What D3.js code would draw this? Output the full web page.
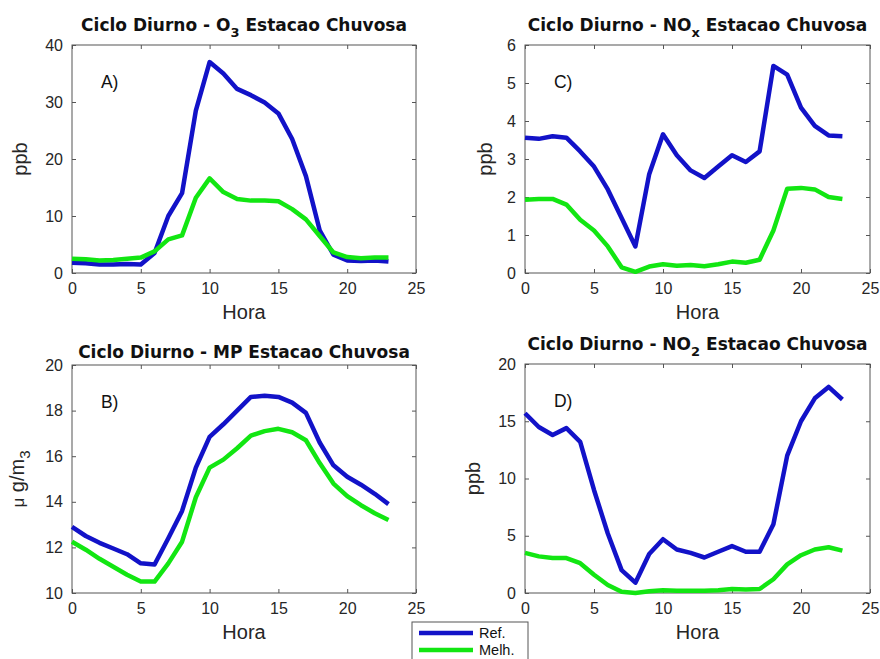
<!DOCTYPE html>
<html>
<head>
<meta charset="utf-8">
<script src="https://cdn.jsdelivr.net/npm/d3@7"></script>
<style>
  body { margin: 0; background: #fff; }
  text { font-family: "Liberation Sans", Arial, sans-serif; }
</style>
</head>
<body>
<svg id="chart" width="880" height="659"></svg>
<script>
// hours of the day
var hours = d3.range(0, 24);

// O3 (ppb)
var o3Ref  = [1.8, 1.7, 1.5, 1.5, 1.6, 1.5, 3.5, 10, 14, 28.5, 37, 35, 32.3, 31.2, 29.9, 28, 23.5, 17, 7.5, 3.2, 2.2, 2.1, 2.2, 2.0];
var o3Melh = [2.5, 2.4, 2.2, 2.3, 2.5, 2.7, 3.8, 5.9, 6.6, 13.2, 16.6, 14.2, 13.0, 12.7, 12.7, 12.6, 11.2, 9.4, 6.5, 3.6, 2.8, 2.6, 2.7, 2.7];

// NOx (ppb)
var noxRef  = [3.56, 3.53, 3.6, 3.56, 3.2, 2.8, 2.2, 1.45, 0.7, 2.6, 3.65, 3.1, 2.7, 2.5, 2.8, 3.1, 2.92, 3.2, 5.45, 5.22, 4.35, 3.87, 3.62, 3.6];
var noxMelh = [1.93, 1.95, 1.95, 1.8, 1.4, 1.12, 0.7, 0.15, 0.03, 0.17, 0.23, 0.19, 0.21, 0.18, 0.23, 0.3, 0.27, 0.35, 1.12, 2.22, 2.24, 2.2, 2.0, 1.95];

// MP (ug/m3)
var mpRef  = [12.9, 12.5, 12.2, 11.95, 11.7, 11.3, 11.25, 12.4, 13.6, 15.5, 16.85, 17.4, 18.0, 18.6, 18.65, 18.6, 18.35, 17.9, 16.6, 15.6, 15.1, 14.75, 14.35, 13.9];
var mpMelh = [12.25, 11.9, 11.5, 11.15, 10.8, 10.5, 10.5, 11.3, 12.25, 14.2, 15.5, 15.85, 16.35, 16.9, 17.1, 17.2, 17.05, 16.7, 15.7, 14.8, 14.25, 13.85, 13.5, 13.2];

// NO2 (ppb)
var no2Ref  = [15.7, 14.5, 13.8, 14.4, 13.2, 9.0, 5.2, 2.0, 0.9, 3.4, 4.7, 3.8, 3.5, 3.1, 3.6, 4.1, 3.6, 3.6, 6.0, 12.0, 15.0, 17.0, 18.0, 16.9];
var no2Melh = [3.5, 3.2, 3.05, 3.05, 2.6, 1.6, 0.7, 0.1, 0.0, 0.15, 0.25, 0.2, 0.2, 0.2, 0.25, 0.35, 0.3, 0.35, 1.2, 2.5, 3.3, 3.8, 4.0, 3.7];

var xTicks = [0, 5, 10, 15, 20, 25];
var seriesNames = ["Ref.", "Melh."];
var colors = ["#1212c8", "#12e612"];

var panels = [
  { title: ["Ciclo Diurno - O", "3", " Estacao Chuvosa"], tag: "A)", ylabel: "ppb",
    yDomain: [0, 40], yTicks: [0, 10, 20, 30, 40], ref: o3Ref, melh: o3Melh,
    box: [72, 45, 416, 273], ylabX: 27 },
  { title: ["Ciclo Diurno - NO", "x", " Estacao Chuvosa"], tag: "C)", ylabel: "ppb",
    yDomain: [0, 6], yTicks: [0, 1, 2, 3, 4, 5, 6], ref: noxRef, melh: noxMelh,
    box: [525, 45, 870, 273], ylabX: 492 },
  { title: ["Ciclo Diurno - MP Estacao Chuvosa"], tag: "B)", ylabel: "mu",
    yDomain: [10, 20], yTicks: [10, 12, 14, 16, 18, 20], ref: mpRef, melh: mpMelh,
    box: [72, 365, 416, 593], ylabX: 24 },
  { title: ["Ciclo Diurno - NO", "2", " Estacao Chuvosa"], tag: "D)", ylabel: "ppb",
    yDomain: [0, 20], yTicks: [0, 5, 10, 15, 20], ref: no2Ref, melh: no2Melh,
    box: [525, 364, 870, 593], ylabX: 480 }
];

var svg = d3.select("#chart");

panels.forEach(function(p) {
  var x0 = p.box[0], y0 = p.box[1], x1 = p.box[2], y1 = p.box[3];
  var x = d3.scaleLinear().domain([0, 25]).range([x0, x1]);
  var y = d3.scaleLinear().domain(p.yDomain).range([y1, y0]);
  var g = svg.append("g");

  // box
  g.append("rect")
    .attr("x", x0).attr("y", y0)
    .attr("width", x1 - x0).attr("height", y1 - y0)
    .attr("fill", "none").attr("stroke", "#555").attr("stroke-width", 1);

  // axes with inward ticks
  var axB = g.append("g").attr("transform", "translate(0," + y1 + ")")
    .call(d3.axisBottom(x).tickValues(xTicks).tickSize(-4).tickPadding(10));
  var axT = g.append("g").attr("transform", "translate(0," + y0 + ")")
    .call(d3.axisTop(x).tickValues(xTicks).tickSize(-4).tickFormat(""));
  var axL = g.append("g").attr("transform", "translate(" + x0 + ",0)")
    .call(d3.axisLeft(y).tickValues(p.yTicks).tickSize(-4).tickPadding(9).tickFormat(d3.format("d")));
  var axR = g.append("g").attr("transform", "translate(" + x1 + ",0)")
    .call(d3.axisRight(y).tickValues(p.yTicks).tickSize(-4).tickFormat(""));
  [axB, axT, axL, axR].forEach(function(a) {
    a.select(".domain").remove();
    a.selectAll("line").attr("stroke", "#555");
    a.selectAll("text").attr("fill", "#262626").style("font-size", "16px")
      .style("font-family", "'Liberation Sans', Arial, sans-serif");
  });

  // lines
  var line = d3.line().x(function(d, i) { return x(hours[i]); }).y(function(d) { return y(d); });
  [p.ref, p.melh].forEach(function(s, i) {
    g.append("path").datum(s)
      .attr("d", line)
      .attr("fill", "none")
      .attr("stroke", colors[i])
      .attr("stroke-width", 4.5)
      .attr("stroke-linejoin", "round");
  });

  // title (subscripted titles sit higher)
  var cx = (x0 + x1) / 2;
  var t = g.append("text")
    .attr("x", cx).attr("y", p.title.length > 1 ? y0 - 14 : y0 - 7)
    .attr("text-anchor", "middle")
    .style("font-family", "'DejaVu Sans', sans-serif")
    .attr("font-weight", "bold").attr("font-size", 17).attr("fill", "#111");
  t.append("tspan").text(p.title[0]);
  if (p.title.length > 1) {
    t.append("tspan").attr("dy", 6).attr("font-size", 13).text(p.title[1]);
    t.append("tspan").attr("dy", -6).text(p.title[2]);
  }

  // panel tag
  g.append("text")
    .attr("x", x(2.1)).attr("y", y0 + 43)
    .attr("font-size", 17.5).attr("fill", "#111")
    .text(p.tag);

  // x label
  g.append("text")
    .attr("x", cx).attr("y", y1 + 46)
    .attr("text-anchor", "middle")
    .attr("font-size", 20).attr("fill", "#262626")
    .text("Hora");

  // y label
  var yl = g.append("text")
    .attr("transform", "translate(" + p.ylabX + "," + ((y0 + y1) / 2) + ") rotate(-90)")
    .attr("text-anchor", "middle")
    .attr("font-size", 20).attr("fill", "#262626");
  if (p.ylabel === "mu") {
    yl.append("tspan").attr("font-size", 17).text("\u03bc");
    yl.append("tspan").text(" g/m");
    yl.append("tspan").attr("dy", 6).attr("font-size", 15).text("3");
  } else {
    yl.text(p.ylabel);
  }
});

// legend
var leg = svg.append("g");
leg.append("rect")
  .attr("x", 412).attr("y", 622).attr("width", 116).attr("height", 44)
  .attr("fill", "#fff").attr("stroke", "#555").attr("stroke-width", 1);
seriesNames.forEach(function(n, i) {
  var ly = 633 + i * 17;
  leg.append("line")
    .attr("x1", 419).attr("x2", 473).attr("y1", ly).attr("y2", ly)
    .attr("stroke", colors[i]).attr("stroke-width", 4.5);
  leg.append("text")
    .attr("x", 479).attr("y", ly + 5)
    .attr("font-size", 14.5).attr("fill", "#111")
    .text(n);
});
</script>
</body>
</html>
